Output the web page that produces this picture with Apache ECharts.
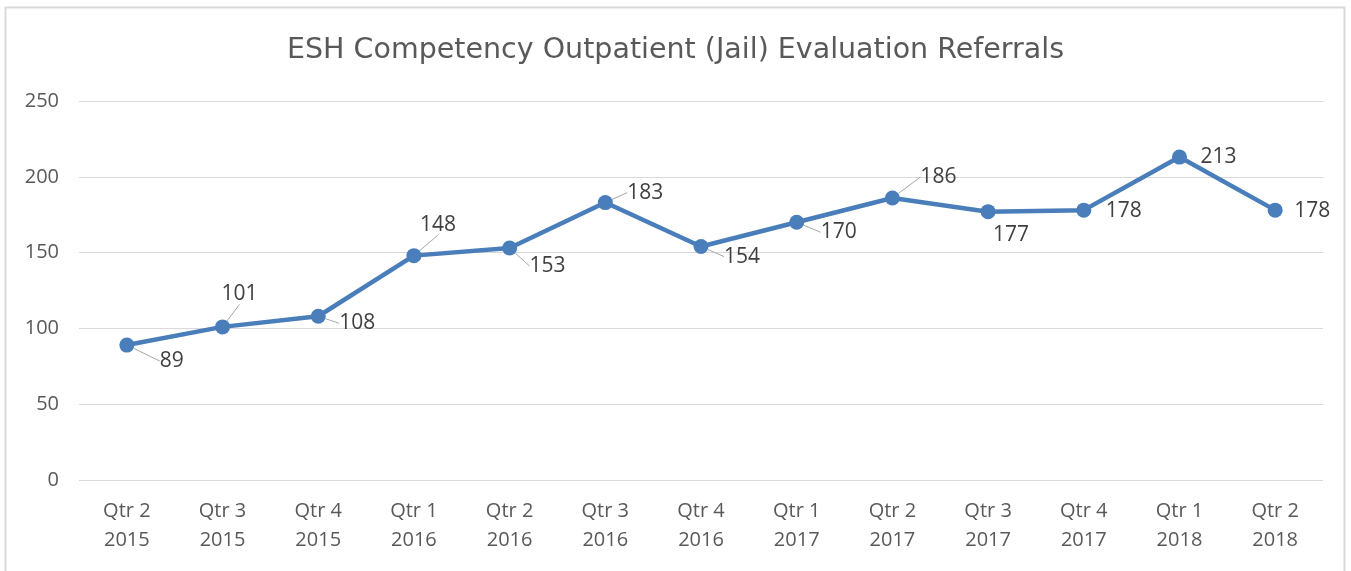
<!DOCTYPE html>
<html>
<head>
<meta charset="utf-8">
<script src="https://cdn.jsdelivr.net/npm/echarts@6/dist/echarts.min.js"></script>
<style>
  html, body { margin: 0; padding: 0; background: #fff; }
  #chart { width: 1351px; height: 571px; }
</style>
</head>
<body>
<div id="chart"></div>
<script>
var categories = ['Qtr 2\n2015', 'Qtr 3\n2015', 'Qtr 4\n2015', 'Qtr 1\n2016', 'Qtr 2\n2016', 'Qtr 3\n2016',
  'Qtr 4\n2016', 'Qtr 1\n2017', 'Qtr 2\n2017', 'Qtr 3\n2017', 'Qtr 4\n2017', 'Qtr 1\n2018', 'Qtr 2\n2018'];
var referrals = [89, 101, 108, 148, 153, 183, 154, 170, 186, 177, 178, 213, 178];
var yTicks = [0, 50, 100, 150, 200, 250];

// where each data label sits relative to its point (px), and whether it gets a leader line
var labelShift = [[45, 16], [17, -33], [39, 7], [24, -31], [38, 18], [40, -10], [41, 10], [42, 10],
  [46, -21], [23, 23], [40, 1], [39, 0], [37, 1]];
var leader = [true, true, true, true, true, true, true, true, true, false, false, false, false];

var chart = echarts.init(document.getElementById('chart'));

chart.setOption({
  animation: false,
  title: {
    text: 'ESH Competency Outpatient (Jail) Evaluation Referrals',
    left: 'center',
    top: 31,
    textStyle: { fontFamily: 'DejaVu Sans', fontSize: 28.5, fontWeight: 'normal', color: '#595959' }
  },
  graphic: [{
    type: 'rect',
    shape: { x: 5.5, y: 7.5, width: 1339, height: 580 },
    style: { fill: 'none', stroke: '#d9d9d9', lineWidth: 2 },
    silent: true
  }],
  grid: { left: 79, right: 28, top: 101, bottom: 91 },
  xAxis: {
    type: 'category',
    data: categories,
    boundaryGap: true,
    axisLine: { show: false },
    axisTick: { show: false },
    axisLabel: {
      margin: 17,
      lineHeight: 29,
      fontFamily: 'Open Sans',
      fontSize: 20,
      color: '#595959'
    }
  },
  yAxis: {
    type: 'value',
    min: yTicks[0],
    max: yTicks[yTicks.length - 1],
    interval: 50,
    axisLine: { show: false },
    axisTick: { show: false },
    splitLine: { lineStyle: { color: '#d9d9d9', width: 1 } },
    axisLabel: { margin: 20, fontFamily: 'Open Sans', fontSize: 20, color: '#595959' }
  },
  series: [{
    type: 'line',
    data: referrals.map(function (v, i) {
      return { value: v, labelLine: { show: leader[i] } };
    }),
    symbol: 'circle',
    symbolSize: 15,
    itemStyle: { color: '#4a7ebb' },
    lineStyle: { color: '#4a7ebb', width: 4.5 },
    label: {
      show: true,
      position: 'inside',
      fontFamily: 'Open Sans',
      fontSize: 21,
      color: '#404040'
    },
    labelLine: {
      show: true,
      lineStyle: { color: '#a6a6a6', width: 1 }
    },
    labelLayout: function (params) {
      var s = labelShift[params.dataIndex];
      return { dx: s[0], dy: s[1] };
    }
  }]
});
</script>
</body>
</html>
